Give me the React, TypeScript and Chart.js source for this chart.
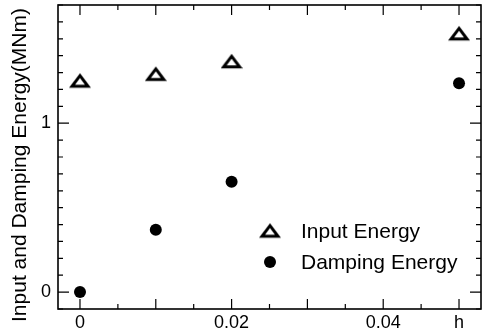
import React, { useEffect, useRef } from 'react';
import { Chart, registerables } from 'chart.js';

Chart.register(...registerables);

const hValues = [0, 0.01, 0.02, 0.05];
const inputEnergy = [1.25, 1.29, 1.365, 1.53];
const dampingEnergy = [0, 0.369, 0.654, 1.237];
const xTickLabels: Record<string, string> = { '0': '0', '0.02': '0.02', '0.04': '0.04', '0.05': 'h' };
const yTickLabels: Record<string, string> = { '0': '0', '1': '1' };
const seriesLabels = ['Input Energy', 'Damping Energy'];
const yTitle = 'Input and Damping Energy(MNm)';

const FONT = '"Liberation Sans", Arial, Helvetica, sans-serif';

function makeTriangle(): HTMLCanvasElement {
  const c = document.createElement('canvas');
  c.width = 22;
  c.height = 17;
  const ctx = c.getContext('2d')!;
  ctx.strokeStyle = '#000';
  ctx.lineWidth = 3;
  ctx.lineJoin = 'miter';
  ctx.beginPath();
  ctx.moveTo(11, 3.2);
  ctx.lineTo(19, 13.8);
  ctx.lineTo(3, 13.8);
  ctx.closePath();
  ctx.stroke();
  return c;
}

function near(v: number, step: number) {
  const r = v / step;
  return Math.abs(r - Math.round(r)) < 1e-6;
}

function keyOf(v: number) {
  return String(Math.round(v * 1000) / 1000);
}

function zeroPad(s: any) {
  s.paddingLeft = 0;
  s.paddingRight = 0;
  s.paddingTop = 0;
  s.paddingBottom = 0;
}

export default function App() {
  const ref = useRef<HTMLCanvasElement | null>(null);

  useEffect(() => {
    if (!ref.current) return;
    const tri = makeTriangle();

    const framePlugin = {
      id: 'framePlugin',
      beforeDatasetsDraw(chart: any) {
        const { ctx, chartArea: a, scales } = chart;
        const xs = scales.x;
        const ys = scales.y;
        ctx.save();
        ctx.strokeStyle = '#000';
        ctx.lineWidth = 1.6;
        ctx.strokeRect(a.left, a.top, a.right - a.left, a.bottom - a.top);
        ctx.lineWidth = 1.2;
        ctx.beginPath();
        xs.ticks.forEach((t: any) => {
          const v = t.value;
          if (!near(v, 0.005)) return;
          const px = xs.getPixelForValue(v);
          const len = near(v, 0.01) ? 10 : 5;
          ctx.moveTo(px, a.bottom);
          ctx.lineTo(px, a.bottom - len);
          ctx.moveTo(px, a.top);
          ctx.lineTo(px, a.top + len);
        });
        ys.ticks.forEach((t: any) => {
          const v = t.value;
          if (!near(v, 0.1)) return;
          const py = ys.getPixelForValue(v);
          const len = near(v, 1) ? 11 : 5;
          ctx.moveTo(a.left, py);
          ctx.lineTo(a.left + len, py);
          ctx.moveTo(a.right, py);
          ctx.lineTo(a.right - len, py);
        });
        ctx.stroke();
        ctx.restore();
      },
      afterDraw(chart: any) {
        const { ctx, chartArea: a } = chart;
        ctx.save();
        ctx.fillStyle = '#000';
        ctx.font = `21px ${FONT}`;
        ctx.translate(26, (a.top + a.bottom) / 2 + 8);
        ctx.rotate(-Math.PI / 2);
        ctx.textAlign = 'center';
        ctx.textBaseline = 'alphabetic';
        ctx.fillText(yTitle, 0, 0);
        ctx.restore();

        ctx.save();
        const lx = a.left + 212;
        const ly1 = a.top + 226;
        const ly2 = a.top + 257;
        ctx.drawImage(tri, lx - tri.width / 2, ly1 - tri.height / 2);
        ctx.fillStyle = '#000';
        ctx.beginPath();
        ctx.arc(lx, ly2, 6, 0, Math.PI * 2);
        ctx.fill();
        ctx.font = `21px ${FONT}`;
        ctx.textAlign = 'left';
        ctx.textBaseline = 'middle';
        ctx.fillText(seriesLabels[0], a.left + 243, ly1 + 1);
        ctx.fillText(seriesLabels[1], a.left + 243, ly2 + 1);
        ctx.restore();
      },
    };

    const chart = new Chart(ref.current, {
      type: 'scatter',
      data: {
        datasets: [
          {
            label: seriesLabels[0],
            data: hValues.map((x, i) => ({ x, y: inputEnergy[i] })),
            pointStyle: tri as any,
            pointRadius: 9,
            borderColor: '#000',
            backgroundColor: 'rgba(0,0,0,0)',
          },
          {
            label: seriesLabels[1],
            data: hValues.map((x, i) => ({ x, y: dampingEnergy[i] })),
            pointStyle: 'circle',
            pointRadius: 6,
            borderWidth: 0,
            backgroundColor: '#000',
            borderColor: '#000',
          },
        ],
      },
      options: {
        animation: false,
        responsive: false,
        devicePixelRatio: 1,
        layout: { autoPadding: false, padding: { top: 5, right: 1, left: 0, bottom: 0 } },
        plugins: { legend: { display: false }, tooltip: { enabled: false } },
        scales: {
          x: {
            type: 'linear',
            min: -0.0029,
            max: 0.0529,
            grid: { display: false, drawTicks: false },
            border: { display: false },
            afterFit: (s: any) => {
              s.height = 27;
              zeroPad(s);
            },
            ticks: {
              stepSize: 0.005,
              includeBounds: false,
              autoSkip: false,
              maxRotation: 0,
              padding: 3,
              color: '#000',
              font: { family: FONT, size: 18 },
              callback: (v: any) => xTickLabels[keyOf(Number(v))] ?? '',
            },
          },
          y: {
            type: 'linear',
            min: -0.1,
            max: 1.7,
            grid: { display: false, drawTicks: false },
            border: { display: false },
            afterFit: (s: any) => {
              s.width = 58;
              zeroPad(s);
            },
            ticks: {
              stepSize: 0.1,
              includeBounds: false,
              autoSkip: false,
              padding: 7,
              color: '#000',
              font: { family: FONT, size: 18 },
              callback: (v: any) => yTickLabels[keyOf(Number(v))] ?? '',
            },
          },
        },
      },
      plugins: [framePlugin],
    });

    return () => chart.destroy();
  }, []);

  return (
    <div style={{ position: 'absolute', left: 0, top: 0, width: 482, height: 336 }}>
      <canvas ref={ref} width={482} height={336} />
    </div>
  );
}
